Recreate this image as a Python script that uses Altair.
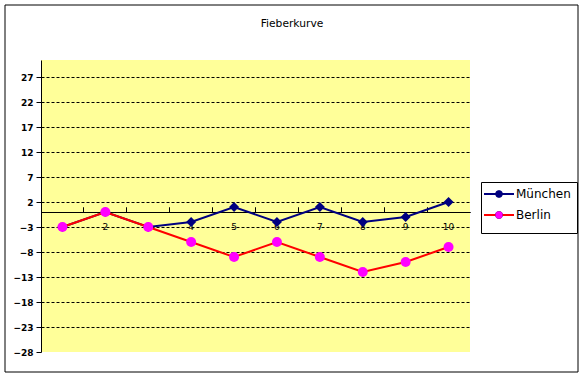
import altair as alt
import pandas as pd

days = ["1", "2", "3", "4", "5", "6", "7", "8", "9", "10"]
muenchen = [-3, 0, -3, -2, 1, -2, 1, -2, -1, 2]
berlin = [-3, 0, -3, -6, -9, -6, -9, -12, -10, -7]
series = ["München", "Berlin"]
line_colors = ["#000080", "#FF0000"]
marker_colors = ["#000080", "#FF00FF"]
marker_shapes = ["diamond", "circle"]
y_ticks = [-28, -23, -18, -13, -8, -3, 2, 7, 12, 17, 22, 27]
chart_title = "Fieberkurve"

rows = []
for s, vals in zip(series, [muenchen, berlin]):
    for d, v in zip(days, vals):
        rows.append({"Tag": d, "Wert": v, "Serie": s, "Reihe": s})
df = pd.DataFrame(rows)

W, H = 429, 292
FONT = "DejaVu Sans"

x_scale = alt.Scale(type="band", domain=days, paddingInner=0, paddingOuter=0)
y_scale = alt.Scale(domain=[-28, 30.4], nice=False, zero=False)

y_axis = alt.Axis(
    values=y_ticks, title=None, grid=True, gridDash=[3, 2], gridColor="black",
    gridOpacity={"condition": {"test": "datum.value == -28", "value": 0}, "value": 1},
    domainColor="black", tickColor="black", tickSize=5, labelPadding=3,
    labelFont=FONT, labelFontWeight="bold", labelFontSize=9, labelColor="black",
)
x_axis_ticks = alt.Axis(
    orient="top", offset=-152, bandPosition=0, labels=False, title=None,
    domainColor="black", tickColor="black", tickSize=5, grid=False,
)
x_axis_labels = alt.Axis(
    orient="bottom", offset=-140, domain=False, ticks=False, title=None,
    labelFont=FONT, labelFontSize=9, labelColor="black", labelPadding=10,
    labelAngle=0, grid=False,
)

base = alt.Chart(df)
one = pd.DataFrame({"t": [chart_title]})

border = alt.Chart(one).mark_rect(
    fill="white", fillOpacity=0, stroke="black", strokeWidth=1
).encode(
    x=alt.value(-36), x2=alt.value(537), y=alt.value(-55), y2=alt.value(312)
)

title_mark = alt.Chart(one).mark_text(
    font=FONT, fontSize=10.7, color="black", align="center", baseline="middle"
).encode(
    x=alt.value(251), y=alt.value(-36), text="t:N"
)

axis_layer = base.mark_point(opacity=0).encode(
    x=alt.X("Tag:O", scale=x_scale, axis=x_axis_labels),
    y=alt.Y("Wert:Q", scale=y_scale, axis=y_axis),
)

lines = base.mark_line(strokeWidth=2).encode(
    x=alt.X("Tag:O", scale=x_scale, axis=x_axis_ticks),
    y=alt.Y("Wert:Q", scale=y_scale, axis=y_axis),
    stroke=alt.Stroke(
        "Serie:N",
        scale=alt.Scale(domain=series, range=line_colors),
        legend=alt.Legend(
            orient="none", legendX=440, legendY=122,
            title=" ", titleOrient="bottom", titleFontSize=5, titlePadding=1,
            symbolType="M-3,0H3", symbolSize=100, symbolStrokeWidth=2,
            symbolOffset=6, labelOffset=11,
            labelFont=FONT, labelFontSize=12, labelColor="black",
            rowPadding=9, padding=6, strokeColor="black", fillColor="white",
        ),
    ),
)

pt_legend = alt.Legend(
    orient="none", legendX=440, legendY=122, title=None,
    symbolSize=55, symbolStrokeWidth=0, symbolOffset=6, labelOffset=11,
    labelFont=FONT, labelFontSize=12, labelOpacity=0,
    rowPadding=9, padding=6,
)
points = base.mark_point(filled=True, opacity=1, size=100, strokeWidth=0).encode(
    x=alt.X("Tag:O", scale=x_scale, axis=x_axis_ticks),
    y=alt.Y("Wert:Q", scale=y_scale, axis=y_axis),
    fill=alt.Fill("Reihe:N", sort=series, scale=alt.Scale(range=marker_colors), legend=pt_legend),
    shape=alt.Shape("Reihe:N", sort=series, scale=alt.Scale(range=marker_shapes), legend=pt_legend),
)

chart = alt.layer(border, title_mark, axis_layer, lines, points).resolve_axis(
    x="independent"
).properties(
    width=W, height=H,
    background="white",
    autosize=alt.AutoSizeParams(type="none"),
    padding={"left": 41, "top": 60, "right": 114, "bottom": 25},
).configure_view(
    fill="#FFFF99", strokeWidth=0
)

chart.save("out.html", embed_options={"renderer": "svg", "actions": False})
